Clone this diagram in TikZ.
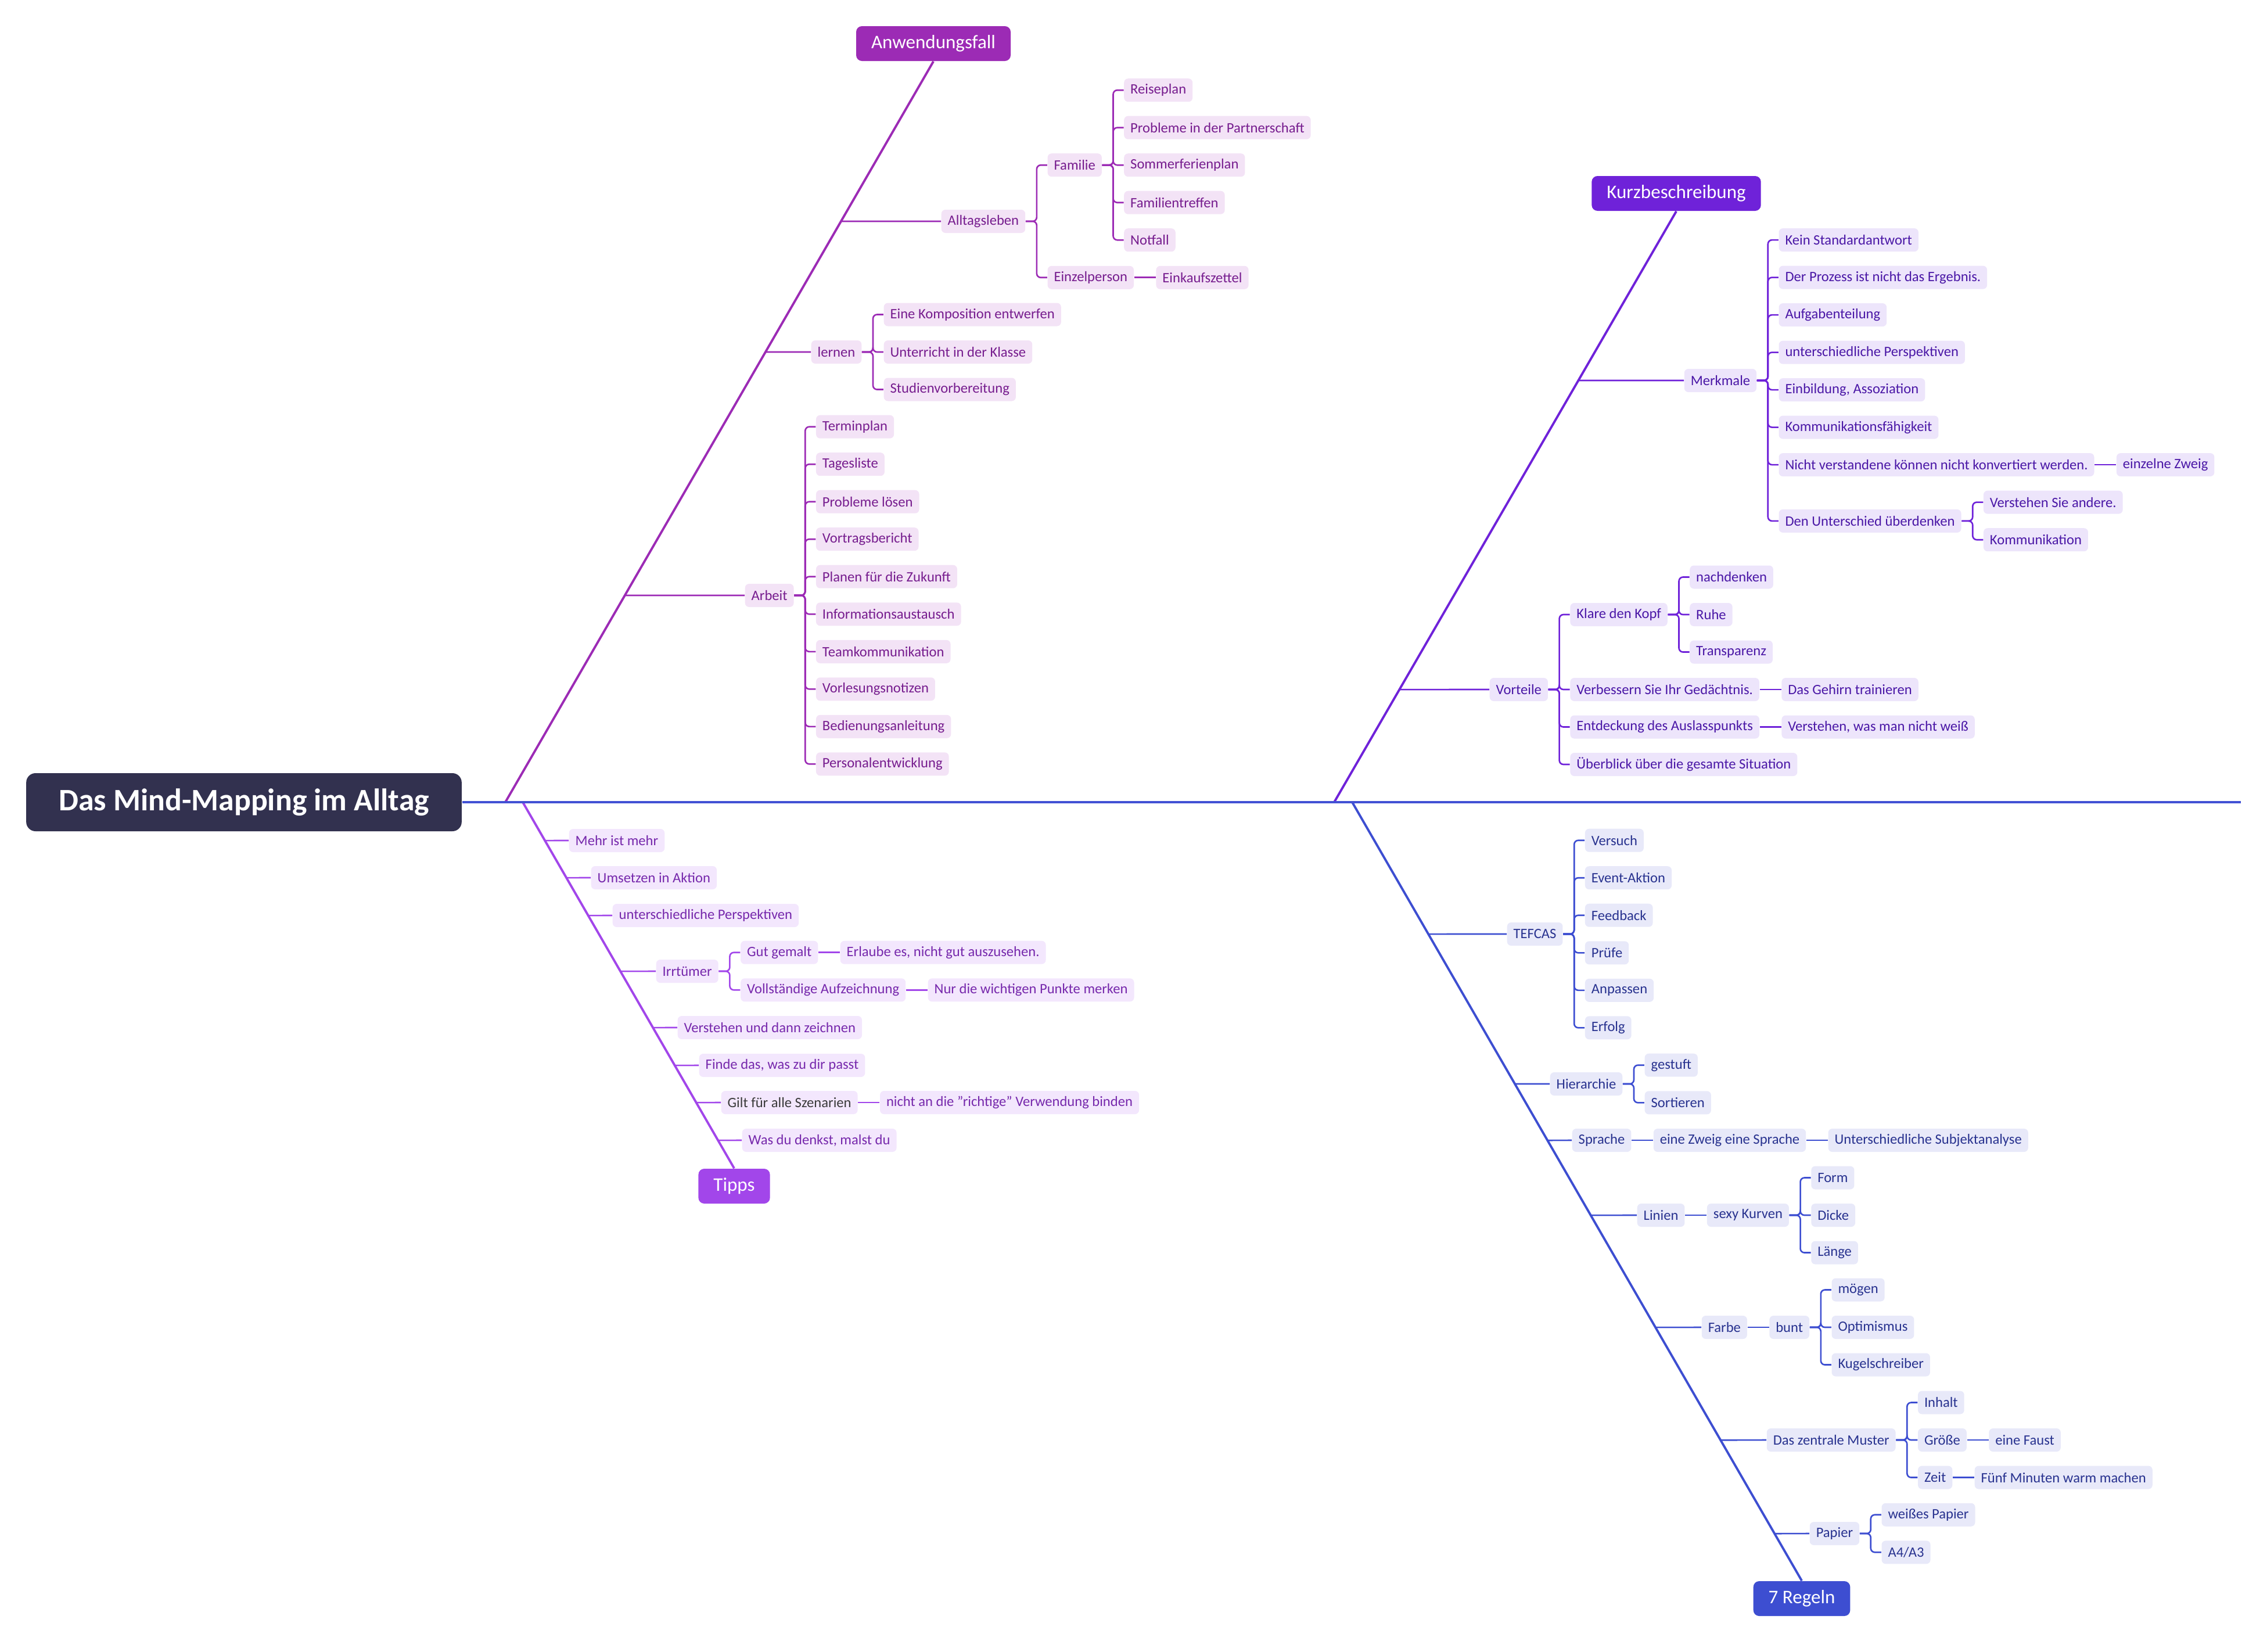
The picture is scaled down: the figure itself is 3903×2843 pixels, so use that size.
\documentclass[tikz,border=0pt]{standalone}
\usepackage{fontspec}
\setmainfont{Carlito}
\usepackage{tikz}
\usetikzlibrary{positioning}

\definecolor{rootbg}{HTML}{32314F}
\definecolor{spineC}{HTML}{4251D4}
\definecolor{anwC}{HTML}{9C2BB5}
\definecolor{anwF}{HTML}{F3E3F6}
\definecolor{anwT}{HTML}{761C8E}
\definecolor{kurzC}{HTML}{6F22D9}
\definecolor{kurzF}{HTML}{EDE5FB}
\definecolor{kurzT}{HTML}{4A17A6}
\definecolor{tipC}{HTML}{A246EA}
\definecolor{tipF}{HTML}{F3E7FD}
\definecolor{tipT}{HTML}{7628AC}
\definecolor{regC}{HTML}{3D4ED1}
\definecolor{regF}{HTML}{E8E9F9}
\definecolor{regT}{HTML}{28328F}
\definecolor{giltT}{HTML}{3A3A3A}

\begin{document}
\begin{tikzpicture}[x=0.1mm, y=-0.1mm, node distance=3.7mm,
    leaf/.style={rounded corners=0.7mm, inner xsep=1.1mm, inner ysep=0pt,
        minimum height=4mm, anchor=west, font=\fontsize{7}{8}\selectfont},
    anwbox/.style={leaf, fill=anwF, text=anwT},
    kurzbox/.style={leaf, fill=kurzF, text=kurzT},
    tipbox/.style={leaf, fill=tipF, text=tipT},
    regbox/.style={leaf, fill=regF, text=regT},
    topic/.style={rounded corners=1mm, inner xsep=2.6mm, inner ysep=0pt,
        minimum height=6mm, text=white, font=\fontsize{9.4}{11}\selectfont},
    anwline/.style={draw=anwC, line width=0.75pt, rounded corners=0.7mm},
    kurzline/.style={draw=kurzC, line width=0.75pt, rounded corners=0.7mm},
    tipline/.style={draw=tipC, line width=0.75pt, rounded corners=0.7mm},
    regline/.style={draw=regC, line width=0.75pt, rounded corners=0.7mm},
    bone/.style={line width=1.1pt}]

    \useasboundingbox (0,0) rectangle (3903,2843);

    \node[fill=rootbg, text=white, rounded corners=1.6mm, inner xsep=5.6mm,
        minimum height=10mm, font=\fontsize{15.3}{18}\selectfont\bfseries]
        (root) at (420,1381) {Das Mind-Mapping im Alltag};

    \node[topic, fill=anwC] (anw) at (1607,75) {Anwendungsfall};
    \node[topic, fill=kurzC] (kurz) at (2886,333) {Kurzbeschreibung};
    \node[topic, fill=tipC] (tipps) at (1264,2042) {Tipps};
    \node[topic, fill=regC] (regeln) at (3102,2752) {7 Regeln};

    \coordinate (a0) at (870,1381);
    \coordinate (a1) at (anw.south);
    \coordinate (t0) at (900,1381);
    \coordinate (t1) at (tipps.north);
    \coordinate (k0) at (2297,1381);
    \coordinate (k1) at (kurz.south);
    \coordinate (r0) at (2328,1381);
    \coordinate (r1) at (regeln.north);
    \coordinate (sEnd) at (3858,1381);

    \draw[anwC, bone] (a0) -- (a1);
    \draw[tipC, bone] (t0) -- (t1);
    \draw[kurzC, bone] (k0) -- (k1);
    \draw[regC, bone] (r0) -- (r1);
    \draw[spineC, line width=1.3pt] (root.east) -- (sEnd);

    % Anwendungsfall
    \node[anwbox] (alltag) at (1620,381) {Alltagsleben};
    \node[anwbox, right=of alltag, yshift=9.68mm] (familie) {Familie};
    \node[anwbox, right=of alltag, yshift=-9.68mm] (einzel) {Einzelperson};
    \node[anwbox, right=of einzel] (einkauf) {Einkaufszettel};
    \node[anwbox, right=of familie, yshift=12.9mm] (reise) {Reiseplan};
    \node[anwbox, right=of familie, yshift=6.45mm] (partner) {Probleme in der Partnerschaft};
    \node[anwbox, right=of familie] (sommer) {Sommerferienplan};
    \node[anwbox, right=of familie, yshift=-6.45mm] (treffen) {Familientreffen};
    \node[anwbox, right=of familie, yshift=-12.9mm] (notfall) {Notfall};

    \node[anwbox] (lernen) at (1396,606) {lernen};
    \node[anwbox, right=of lernen, yshift=6.45mm] (kompo) {Eine Komposition entwerfen};
    \node[anwbox, right=of lernen] (unterr) {Unterricht in der Klasse};
    \node[anwbox, right=of lernen, yshift=-6.45mm] (studien) {Studienvorbereitung};

    \node[anwbox] (arbeit) at (1282,1025) {Arbeit};
    \node[anwbox, right=of arbeit, yshift=29.03mm] (termin) {Terminplan};
    \node[anwbox, right=of arbeit, yshift=22.58mm] (tages) {Tagesliste};
    \node[anwbox, right=of arbeit, yshift=16.13mm] (probl) {Probleme lösen};
    \node[anwbox, right=of arbeit, yshift=9.68mm] (vortrag) {Vortragsbericht};
    \node[anwbox, right=of arbeit, yshift=3.23mm] (planen) {Planen für die Zukunft};
    \node[anwbox, right=of arbeit, yshift=-3.23mm] (info) {Informationsaustausch};
    \node[anwbox, right=of arbeit, yshift=-9.68mm] (team) {Teamkommunikation};
    \node[anwbox, right=of arbeit, yshift=-16.13mm] (vorles) {Vorlesungsnotizen};
    \node[anwbox, right=of arbeit, yshift=-22.58mm] (bedien) {Bedienungsanleitung};
    \node[anwbox, right=of arbeit, yshift=-29.03mm] (personal) {Personalentwicklung};

    \foreach \n in {alltag,lernen,arbeit}
        \draw[anwline] (intersection of a0--a1 and \n.west--\n.east) -- (\n.west);
    \foreach \c in {familie,einzel}
        \draw[anwline] (alltag.east) -- ++(1.9mm,0) |- (\c.west);
    \foreach \c in {reise,partner,sommer,treffen,notfall}
        \draw[anwline] (familie.east) -- ++(1.9mm,0) |- (\c.west);
    \foreach \c in {kompo,unterr,studien}
        \draw[anwline] (lernen.east) -- ++(1.9mm,0) |- (\c.west);
    \foreach \c in {termin,tages,probl,vortrag,planen,info,team,vorles,bedien,personal}
        \draw[anwline] (arbeit.east) -- ++(1.9mm,0) |- (\c.west);
    \draw[anwline] (einzel.east) -- (einkauf.west);

    % Kurzbeschreibung
    \node[kurzbox] (merk) at (2899,655) {Merkmale};
    \node[kurzbox, right=of merk, yshift=24.19mm] (kein) {Kein Standardantwort};
    \node[kurzbox, right=of merk, yshift=17.74mm] (prozess) {Der Prozess ist nicht das Ergebnis.};
    \node[kurzbox, right=of merk, yshift=11.29mm] (aufg) {Aufgabenteilung};
    \node[kurzbox, right=of merk, yshift=4.84mm] (persp) {unterschiedliche Perspektiven};
    \node[kurzbox, right=of merk, yshift=-1.61mm] (einb) {Einbildung, Assoziation};
    \node[kurzbox, right=of merk, yshift=-8.06mm] (kommf) {Kommunikationsfähigkeit};
    \node[kurzbox, right=of merk, yshift=-14.51mm] (nichtv) {Nicht verstandene können nicht konvertiert werden.};
    \node[kurzbox, right=of merk, yshift=-24.19mm] (untersch) {Den Unterschied überdenken};
    \node[kurzbox, right=of nichtv] (zweig) {einzelne Zweig};
    \node[kurzbox, right=of untersch, yshift=3.23mm] (verst) {Verstehen Sie andere.};
    \node[kurzbox, right=of untersch, yshift=-3.23mm] (kommu) {Kommunikation};

    \node[kurzbox] (vorteile) at (2564,1187) {Vorteile};
    \node[kurzbox, right=of vorteile, yshift=12.9mm] (klare) {Klare den Kopf};
    \node[kurzbox, right=of vorteile] (verbes) {Verbessern Sie Ihr Gedächtnis.};
    \node[kurzbox, right=of vorteile, yshift=-6.45mm] (entd) {Entdeckung des Auslasspunkts};
    \node[kurzbox, right=of vorteile, yshift=-12.9mm] (ueber) {Überblick über die gesamte Situation};
    \node[kurzbox, right=of klare, yshift=6.45mm] (nachd) {nachdenken};
    \node[kurzbox, right=of klare] (ruhe) {Ruhe};
    \node[kurzbox, right=of klare, yshift=-6.45mm] (transp) {Transparenz};
    \node[kurzbox, right=of verbes] (gehirn) {Das Gehirn trainieren};
    \node[kurzbox, right=of entd] (wissen) {Verstehen, was man nicht weiß};

    \foreach \n in {merk,vorteile}
        \draw[kurzline] (intersection of k0--k1 and \n.west--\n.east) -- (\n.west);
    \foreach \c in {kein,prozess,aufg,persp,einb,kommf,nichtv,untersch}
        \draw[kurzline] (merk.east) -- ++(1.9mm,0) |- (\c.west);
    \foreach \c in {verst,kommu}
        \draw[kurzline] (untersch.east) -- ++(1.9mm,0) |- (\c.west);
    \foreach \c in {klare,verbes,entd,ueber}
        \draw[kurzline] (vorteile.east) -- ++(1.9mm,0) |- (\c.west);
    \foreach \c in {nachd,ruhe,transp}
        \draw[kurzline] (klare.east) -- ++(1.9mm,0) |- (\c.west);
    \draw[kurzline] (nichtv.east) -- (zweig.west);
    \draw[kurzline] (verbes.east) -- (gehirn.west);
    \draw[kurzline] (entd.east) -- (wissen.west);

    % Tipps
    \node[tipbox] (mehr) at (979,1447) {Mehr ist mehr};
    \node[tipbox] (umsetz) at (1017,1511) {Umsetzen in Aktion};
    \node[tipbox] (tpersp) at (1054,1576) {unterschiedliche Perspektiven};
    \node[tipbox] (irrt) at (1129,1672) {Irrtümer};
    \node[tipbox, right=of irrt, yshift=3.23mm] (gut) {Gut gemalt};
    \node[tipbox, right=of irrt, yshift=-3.23mm] (vollst) {Vollständige Aufzeichnung};
    \node[tipbox, right=of gut] (erlaube) {Erlaube es, nicht gut auszusehen.};
    \node[tipbox, right=of vollst] (nurdie) {Nur die wichtigen Punkte merken};
    \node[tipbox] (zeichnen) at (1166,1769) {Verstehen und dann zeichnen};
    \node[tipbox] (finde) at (1203,1834) {Finde das, was zu dir passt};
    \node[tipbox, text=giltT] (gilt) at (1241,1898) {Gilt für alle Szenarien};
    \node[tipbox, right=of gilt] (binden) {nicht an die "richtige" Verwendung binden};
    \node[tipbox] (wasdu) at (1277,1963) {Was du denkst, malst du};

    \foreach \n in {mehr,umsetz,tpersp,irrt,zeichnen,finde,gilt,wasdu}
        \draw[tipline] (intersection of t0--t1 and \n.west--\n.east) -- (\n.west);
    \foreach \c in {gut,vollst}
        \draw[tipline] (irrt.east) -- ++(1.9mm,0) |- (\c.west);
    \draw[tipline] (gut.east) -- (erlaube.west);
    \draw[tipline] (vollst.east) -- (nurdie.west);
    \draw[tipline] (gilt.east) -- (binden.west);

    % 7 Regeln
    \node[regbox] (tefcas) at (2594,1608) {TEFCAS};
    \node[regbox, right=of tefcas, yshift=16.13mm] (versuch) {Versuch};
    \node[regbox, right=of tefcas, yshift=9.68mm] (event) {Event-Aktion};
    \node[regbox, right=of tefcas, yshift=3.23mm] (feedb) {Feedback};
    \node[regbox, right=of tefcas, yshift=-3.23mm] (pruefe) {Prüfe};
    \node[regbox, right=of tefcas, yshift=-9.68mm] (anpas) {Anpassen};
    \node[regbox, right=of tefcas, yshift=-16.13mm] (erfolg) {Erfolg};

    \node[regbox] (hier) at (2668,1866) {Hierarchie};
    \node[regbox, right=of hier, yshift=3.23mm] (gestuft) {gestuft};
    \node[regbox, right=of hier, yshift=-3.23mm] (sortieren) {Sortieren};

    \node[regbox] (sprache) at (2706,1963) {Sprache};
    \node[regbox, right=of sprache] (zweigspr) {eine Zweig eine Sprache};
    \node[regbox, right=of zweigspr] (subj) {Unterschiedliche Subjektanalyse};

    \node[regbox] (linien) at (2818,2092) {Linien};
    \node[regbox, right=of linien] (sexy) {sexy Kurven};
    \node[regbox, right=of sexy, yshift=6.45mm] (form) {Form};
    \node[regbox, right=of sexy] (dicke) {Dicke};
    \node[regbox, right=of sexy, yshift=-6.45mm] (laenge) {Länge};

    \node[regbox] (farbe) at (2929,2285) {Farbe};
    \node[regbox, right=of farbe] (bunt) {bunt};
    \node[regbox, right=of bunt, yshift=6.45mm] (moegen) {mögen};
    \node[regbox, right=of bunt] (optim) {Optimismus};
    \node[regbox, right=of bunt, yshift=-6.45mm] (kugel) {Kugelschreiber};

    \node[regbox] (muster) at (3041,2479) {Das zentrale Muster};
    \node[regbox, right=of muster, yshift=6.45mm] (inhalt) {Inhalt};
    \node[regbox, right=of muster] (groesse) {Größe};
    \node[regbox, right=of muster, yshift=-6.45mm] (zeit) {Zeit};
    \node[regbox, right=of groesse] (faust) {eine Faust};
    \node[regbox, right=of zeit] (fuenf) {Fünf Minuten warm machen};

    \node[regbox] (papier) at (3115,2640) {Papier};
    \node[regbox, right=of papier, yshift=3.23mm] (weiss) {weißes Papier};
    \node[regbox, right=of papier, yshift=-3.23mm] (afour) {A4/A3};

    \foreach \n in {tefcas,hier,sprache,linien,farbe,muster,papier}
        \draw[regline] (intersection of r0--r1 and \n.west--\n.east) -- (\n.west);
    \foreach \c in {versuch,event,feedb,pruefe,anpas,erfolg}
        \draw[regline] (tefcas.east) -- ++(1.9mm,0) |- (\c.west);
    \foreach \c in {gestuft,sortieren}
        \draw[regline] (hier.east) -- ++(1.9mm,0) |- (\c.west);
    \foreach \c in {form,dicke,laenge}
        \draw[regline] (sexy.east) -- ++(1.9mm,0) |- (\c.west);
    \foreach \c in {moegen,optim,kugel}
        \draw[regline] (bunt.east) -- ++(1.9mm,0) |- (\c.west);
    \foreach \c in {inhalt,groesse,zeit}
        \draw[regline] (muster.east) -- ++(1.9mm,0) |- (\c.west);
    \foreach \c in {weiss,afour}
        \draw[regline] (papier.east) -- ++(1.9mm,0) |- (\c.west);
    \draw[regline] (sprache.east) -- (zweigspr.west);
    \draw[regline] (zweigspr.east) -- (subj.west);
    \draw[regline] (linien.east) -- (sexy.west);
    \draw[regline] (farbe.east) -- (bunt.west);
    \draw[regline] (groesse.east) -- (faust.west);
    \draw[regline] (zeit.east) -- (fuenf.west);
\end{tikzpicture}
\end{document}
